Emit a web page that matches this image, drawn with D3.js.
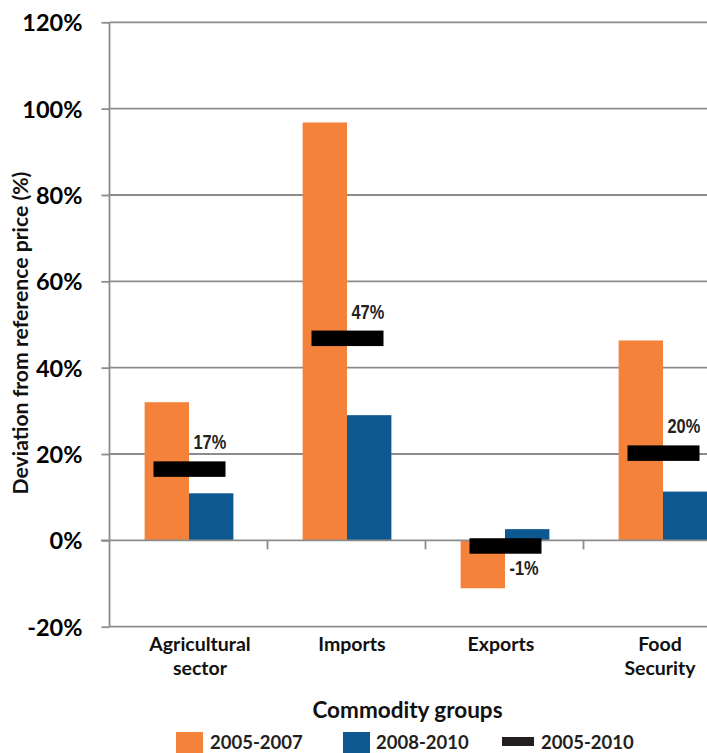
<!DOCTYPE html>
<html>
<head>
<meta charset="utf-8">
<script src="https://cdn.jsdelivr.net/npm/d3@7"></script>
<style>
  html, body { margin: 0; padding: 0; background: #fff; }
  svg { display: block; }
</style>
</head>
<body>
<div id="chart"></div>
<script>
// ---- Data ----
const categories = ["Agricultural sector", "Imports", "Exports", "Food Security"];
const categoryLines = [["Agricultural", "sector"], ["Imports"], ["Exports"], ["Food", "Security"]];
const seriesNames = ["2005-2007", "2008-2010", "2005-2010"];
const values2005_2007 = [32.0, 96.8, -11.1, 46.3];
const values2008_2010 = [10.9, 29.0, 2.6, 11.3];
const values2005_2010 = [16.5, 46.8, -1.3, 20.2];
const yTicks = [-20, 0, 20, 40, 60, 80, 100, 120];

// ---- Layout ----
const W = 707, H = 753;
const orange = "#F4823A", blue = "#0E5891", gridColor = "#8C8C8C";
const sans = "Lato, 'Open Sans', sans-serif";
const narrow = "'Liberation Sans', Arial, sans-serif";

const svg = d3.select("#chart").append("svg").attr("width", W).attr("height", H);

const y = d3.scaleLinear().domain([-20, 120]).range([626.7, 22.3]);
const x = d3.scaleBand().domain(categories).range([110, 742]).paddingInner(0).paddingOuter(0);
const xs = d3.scaleBand().domain(["a", "b"]).range([0, x.bandwidth()]).paddingInner(0).paddingOuter(0.78);

// gridlines
svg.append("g").selectAll("line").data(yTicks.filter(t => t !== 0)).join("line")
  .attr("x1", 109.5).attr("x2", W)
  .attr("y1", d => y(d)).attr("y2", d => y(d))
  .attr("stroke", gridColor).attr("stroke-width", 1.8);

// y axis
const yAxis = d3.axisLeft(y).tickValues(yTicks).tickSize(8).tickPadding(19)
  .tickFormat(d => d + "%");
const gy = svg.append("g").attr("transform", "translate(109.5,0)").call(yAxis);
gy.select(".domain").attr("stroke", gridColor).attr("stroke-width", 1.8)
  .attr("d", `M0,${y(120)}V${y(-20)}`);
gy.selectAll(".tick line").attr("stroke", gridColor).attr("stroke-width", 1.8);
gy.selectAll(".tick text").attr("font-family", sans).attr("font-weight", "bold")
  .attr("font-size", 23.5).attr("fill", "#000").attr("dy", "0.36em");

// bars
const barData = categories.map((c, i) => [
  { c, k: "a", v: values2005_2007[i], color: orange },
  { c, k: "b", v: values2008_2010[i], color: blue }
]).flat();
svg.append("g").selectAll("rect").data(barData).join("rect")
  .attr("x", d => x(d.c) + xs(d.k))
  .attr("width", xs.bandwidth())
  .attr("y", d => y(Math.max(0, d.v)))
  .attr("height", d => Math.abs(y(d.v) - y(0)))
  .attr("fill", d => d.color);

// x axis (zero line with ticks)
const xAxis = d3.axisBottom(x).tickSize(0).tickFormat("");
const gx = svg.append("g").attr("transform", `translate(0,${y(0)})`).call(xAxis);
gx.select(".domain").attr("stroke", gridColor).attr("stroke-width", 1.8)
  .attr("d", `M101,0H${W}`);
gx.selectAll(".tick").remove();
gx.selectAll("line.sep").data(categories.slice(1)).join("line").attr("class", "sep")
  .attr("x1", d => x(d) - 0.5).attr("x2", d => x(d) - 0.5)
  .attr("y1", 0).attr("y2", 9)
  .attr("stroke", gridColor).attr("stroke-width", 1.8);

// 2005-2010 markers
const mW = 72, mH = 15.5;
const markers = svg.append("g");
markers.selectAll("rect").data(categories).join("rect")
  .attr("x", d => x(d) + x.bandwidth() / 2 + 0.5 - mW / 2)
  .attr("y", (d, i) => y(values2005_2010[i]) - mH / 2)
  .attr("width", mW).attr("height", mH)
  .attr("fill", "#000");
markers.selectAll("g.lbl").data(categories).join("g").attr("class", "lbl")
  .attr("transform", (d, i) => {
    const lx = x(d) + x.bandwidth() / 2 + 4.5;
    const ly = values2005_2010[i] >= 0
      ? y(values2005_2010[i]) - mH / 2 - 12
      : y(values2005_2010[i]) + mH / 2 + 21;
    return `translate(${lx},${ly}) scale(0.78,1)`;
  })
  .append("text")
  .attr("font-family", narrow).attr("font-weight", "bold").attr("font-size", 21)
  .attr("fill", "#222")
  .text((d, i) => Math.round(values2005_2010[i]) + "%");

// category labels
const labelNudge = [11, 5, -4, -3];
const cl = svg.append("g");
categories.forEach((c, i) => {
  const t = cl.append("text")
    .attr("x", x(c) + x.bandwidth() / 2 + labelNudge[i])
    .attr("y", 651)
    .attr("text-anchor", "middle")
    .attr("font-family", sans).attr("font-weight", "bold").attr("font-size", 19.5)
    .attr("fill", "#111");
  categoryLines[i].forEach((line, j) => {
    t.append("tspan").attr("x", x(c) + x.bandwidth() / 2 + labelNudge[i])
      .attr("dy", j === 0 ? 0 : 24).text(line);
  });
});

// axis titles
svg.append("text")
  .attr("x", 407.5).attr("y", 718)
  .attr("text-anchor", "middle")
  .attr("font-family", sans).attr("font-weight", "bold").attr("font-size", 22.5)
  .attr("fill", "#111").text("Commodity groups");

svg.append("text")
  .attr("transform", "translate(28,333) rotate(-90)")
  .attr("text-anchor", "middle")
  .attr("font-family", sans).attr("font-weight", "bold").attr("font-size", 21.2)
  .attr("fill", "#111").text("Deviation from reference price (%)");

// legend
const legend = svg.append("g");
const legendItems = [
  { name: seriesNames[0], sx: 176, type: "box", color: orange, tx: 210 },
  { name: seriesNames[1], sx: 343, type: "box", color: blue, tx: 376 },
  { name: seriesNames[2], sx: 502, type: "line", color: "#231F20", tx: 541 }
];
legendItems.forEach(it => {
  if (it.type === "box") {
    legend.append("rect").attr("x", it.sx).attr("y", 732).attr("width", 27).attr("height", 21)
      .attr("fill", it.color);
  } else {
    legend.append("rect").attr("x", it.sx).attr("y", 737).attr("width", 32).attr("height", 9)
      .attr("fill", it.color);
  }
  legend.append("text").attr("x", it.tx).attr("y", 749)
    .attr("font-family", sans).attr("font-weight", "bold").attr("font-size", 18.5)
    .attr("fill", "#231F20").text(it.name);
});
</script>
</body>
</html>
